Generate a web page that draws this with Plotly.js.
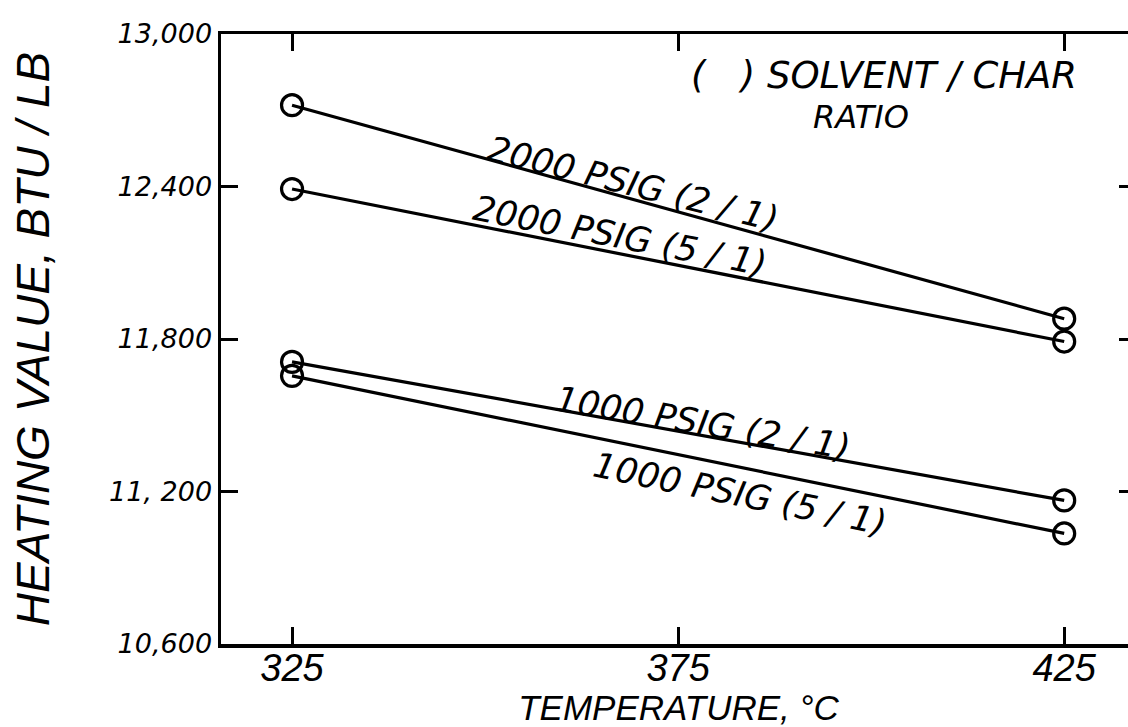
<!DOCTYPE html>
<html>
<head>
<meta charset="utf-8">
<script src="https://cdn.plot.ly/plotly-3.0.1.min.js"></script>
<style>
  html, body { margin: 0; padding: 0; background: #fff; overflow: hidden; }
  #chart { width: 1145px; height: 727px; }
</style>
</head>
<body>
<div id="chart"></div>
<script>
// Heating value of product vs. reaction temperature
const temperature = [325, 425];
const seriesNames = ['2000 PSIG (2/1)', '2000 PSIG (5/1)', '1000 PSIG (2/1)', '1000 PSIG (5/1)'];
const hv2000psig21 = [12720, 11880];
const hv2000psig51 = [12390, 11790];
const hv1000psig21 = [11710, 11165];
const hv1000psig51 = [11655, 11035];

const xTickVals = [325, 375, 425];
const xTickText = ['325', '375', '425'];
const yTickVals = [10600, 11200, 11800, 12400, 13000];
const yTickText = ['10,600', '11, 200', '11,800', '12,400', '13,000'];

const legendNote = ['(   ) SOLVENT / CHAR', 'RATIO'];
const xTitle = 'TEMPERATURE, °C';
const yTitle = 'HEATING VALUE, BTU / LB';

const seriesValues = [hv2000psig21, hv2000psig51, hv1000psig21, hv1000psig51];

const traces = seriesValues.map((vals, i) => ({
  type: 'scatter',
  mode: 'lines+markers',
  name: seriesNames[i],
  x: temperature,
  y: vals,
  line: { color: '#000', width: 3.2 },
  marker: { symbol: 'circle-open', size: 21, color: '#000', line: { width: 3.2, color: '#000' } },
  showlegend: false,
  hoverinfo: 'skip'
}));

const labelFont = { family: 'DejaVu Sans', size: 35, color: '#000', style: 'italic' };

// in-plot labels: each series name runs along its line (slash drawn with a little air)
const labelPlacement = [
  { x: 369.2, y: 12410, angle: 14 },
  { x: 367.5, y: 12205, angle: 11 },
  { x: 378.2, y: 11468, angle: 9.5 },
  { x: 383.0, y: 11190, angle: 11.5 }
];

const annotations = labelPlacement.map((p, i) => ({
  x: p.x, y: p.y, xref: 'x', yref: 'y',
  text: seriesNames[i].replace('/', ' / '),
  textangle: p.angle,
  showarrow: false,
  xanchor: 'center', yanchor: 'middle',
  font: labelFont
}));

annotations.push({
  x: 401.7, y: 12835, xref: 'x', yref: 'y',
  text: legendNote[0], showarrow: false,
  xanchor: 'center', yanchor: 'middle',
  font: Object.assign({}, labelFont, { size: 37 })
});
annotations.push({
  x: 398.7, y: 12675, xref: 'x', yref: 'y',
  text: legendNote[1], showarrow: false,
  xanchor: 'center', yanchor: 'middle',
  font: Object.assign({}, labelFont, { size: 32 })
});

const axisCommon = {
  showline: true, linecolor: '#000', linewidth: 3.5,
  mirror: 'ticks', ticks: 'inside', ticklen: 17, tickwidth: 3, tickcolor: '#000',
  showgrid: false, zeroline: false, fixedrange: true
};

const layout = {
  width: 1145, height: 727,
  paper_bgcolor: '#fff', plot_bgcolor: '#fff',
  margin: { l: 221, r: 9, t: 34, b: 83 },
  xaxis: Object.assign({}, axisCommon, {
    range: [315.8, 434.3],
    tickmode: 'array', tickvals: xTickVals, ticktext: xTickText,
    tickfont: { family: 'Liberation Sans', size: 38, color: '#000', style: 'italic' },
    ticklabelstandoff: -12,
    title: { text: xTitle, font: { family: 'Liberation Sans', size: 35, color: '#000', style: 'italic' }, standoff: 0 }
  }),
  yaxis: Object.assign({}, axisCommon, {
    range: [10600, 13000],
    tickmode: 'array', tickvals: yTickVals, ticktext: yTickText,
    tickfont: { family: 'DejaVu Sans', size: 27, color: '#000', style: 'italic' },
    ticklabelstandoff: 0,
    title: { text: yTitle, font: { family: 'Liberation Sans', size: 46, color: '#000', style: 'italic' }, standoff: 46 }
  }),
  annotations: annotations
};

Plotly.newPlot('chart', traces, layout, { displayModeBar: false, staticPlot: true });
</script>
</body>
</html>
